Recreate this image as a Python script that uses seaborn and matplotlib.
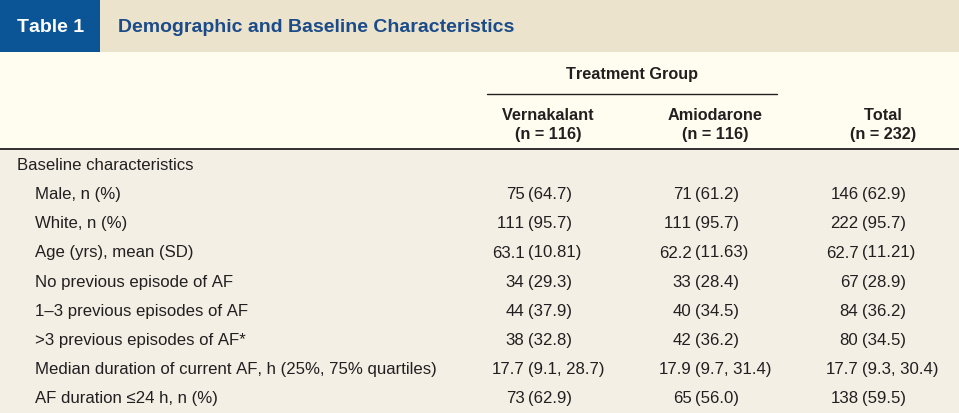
import matplotlib
matplotlib.use("Agg")
import matplotlib.pyplot as plt
import seaborn as sns
from matplotlib.patches import Rectangle

# ---------------- data ----------------
table_label = "Table 1"
table_title = "Demographic and Baseline Characteristics"
group_header = "Treatment Group"
col_names = ["Vernakalant", "Amiodarone", "Total"]
col_ns = ["(n = 116)", "(n = 116)", "(n = 232)"]
section_label = "Baseline characteristics"
row_labels = [
    "Male, n (%)",
    "White, n (%)",
    "Age (yrs), mean (SD)",
    "No previous episode of AF",
    "1\u20133 previous episodes of AF",
    ">3 previous episodes of AF*",
    "Median duration of current AF, h (25%, 75% quartiles)",
    "AF duration \u226424 h, n (%)",
]
vernakalant = ["75 (64.7)", "111 (95.7)", "63.1 (10.81)", "34 (29.3)",
               "44 (37.9)", "38 (32.8)", "17.7 (9.1, 28.7)", "73 (62.9)"]
amiodarone = ["71 (61.2)", "111 (95.7)", "62.2 (11.63)", "33 (28.4)",
              "40 (34.5)", "42 (36.2)", "17.9 (9.7, 31.4)", "65 (56.0)"]
total = ["146 (62.9)", "222 (95.7)", "62.7 (11.21)", "67 (28.9)",
         "84 (36.2)", "80 (34.5)", "17.7 (9.3, 30.4)", "138 (59.5)"]

# ---------------- style ----------------
sns.set_theme(style="white")
FONT = ["Liberation Sans", "DejaVu Sans"]
plt.rcParams["font.family"] = FONT
plt.rcParams["text.kerning_factor"] = 6

W, H = 959, 413
fig = plt.figure(figsize=(W / 100, H / 100), dpi=100)
ax = fig.add_axes([0, 0, 1, 1])
ax.set_xlim(0, W)
ax.set_ylim(H, 0)
ax.axis("off")

TXT = "#231f20"
BAR_BG = "#ece3cd"
BLUE_BOX = "#0b5597"
TITLE_BLUE = "#1b4b88"
HEAD_BG = "#fffdf0"
BODY_BG = "#f3efe5"

# backgrounds
ax.add_patch(Rectangle((0, 0), W, 52, color=BAR_BG, lw=0))
ax.add_patch(Rectangle((0, 0), 100, 52, color=BLUE_BOX, lw=0))
ax.add_patch(Rectangle((0, 52), W, 97, color=HEAD_BG, lw=0))
ax.add_patch(Rectangle((0, 149), W, H - 149, color=BODY_BG, lw=0))

# title bar
ax.text(51, 27, table_label, color="white", fontsize=14, fontweight="bold",
        ha="center", va="center")
ax.text(118, 27, table_title, color=TITLE_BLUE, fontsize=14, fontweight="bold",
        ha="left", va="center")

# header
hfs = 11.7
ax.text(632, 75, group_header, color=TXT, fontsize=hfs, fontweight="bold",
        ha="center", va="center")
ax.plot([487, 777], [94, 94], color=TXT, lw=1.0)
col_x = [548, 715, 883]
for cx, name, n in zip(col_x, col_names, col_ns):
    ax.text(cx, 115, name, color=TXT, fontsize=hfs, fontweight="bold",
            ha="center", va="center")
    ax.text(cx, 135, n, color=TXT, fontsize=hfs, fontweight="bold",
            ha="center", va="center")
ax.plot([0, W], [149, 149], color=TXT, lw=1.3)

# body
fs = 12.1
ax.text(17, 165, section_label, color=TXT, fontsize=fs, ha="left", va="center")
paren_x = [528, 695, 862]
y0, dy = 194.8, 29.1
for i, label in enumerate(row_labels):
    y = y0 + i * dy
    ax.text(35, y, label, color=TXT, fontsize=fs, ha="left", va="center")
    for px, col in zip(paren_x, [vernakalant, amiodarone, total]):
        val = col[i]
        k = val.index("(")
        ax.text(px - 3.5, y, val[:k].strip(), color=TXT, fontsize=fs,
                ha="right", va="center")
        ax.text(px, y, val[k:], color=TXT, fontsize=fs, ha="left", va="center")

fig.savefig("out.png", dpi=100)
